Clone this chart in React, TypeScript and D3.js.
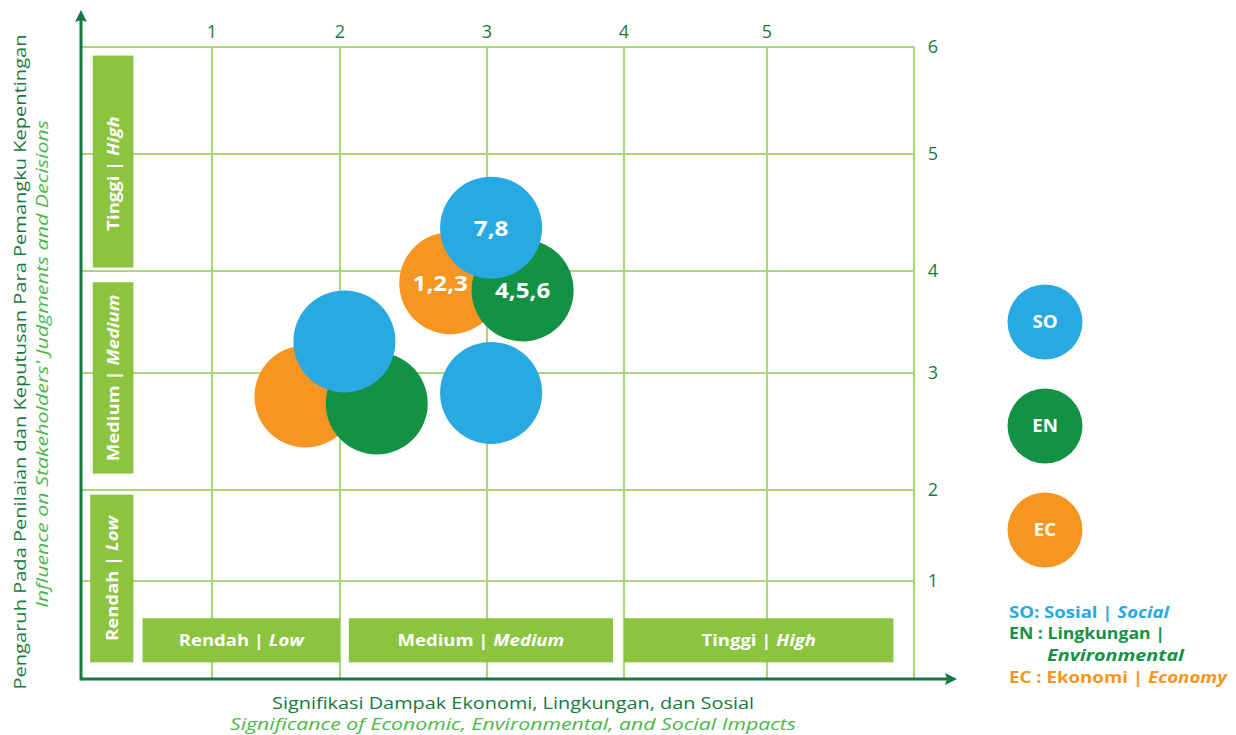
import React, { useEffect, useRef } from 'react';
import * as d3 from 'd3';

// Data
const xTicks = [1, 2, 3, 4, 5];
const yTicks = [1, 2, 3, 4, 5, 6];

const bubbleCategory = ['EC', 'EN', 'SO', 'EC', 'EN', 'SO', 'SO'];
const bubbleX = [2.75, 3.26, 3.03, 1.73, 2.25, 2.03, 3.03];
const bubbleY = [3.88, 3.81, 4.37, 2.8, 2.74, 3.31, 2.83];
const bubbleLabel = ['1,2,3', '4,5,6', '7,8', '', '', '', ''];

const legendCodes = ['SO', 'EN', 'EC'];
const legendId = ['Sosial', 'Lingkungan', 'Ekonomi'];
const legendEn = ['Social', 'Environmental', 'Economy'];

const levelId = ['Rendah', 'Medium', 'Tinggi'];
const levelEn = ['Low', 'Medium', 'High'];
const xBandFrom = [0.47, 2.06, 4.0];
const xBandTo = [2.0, 3.92, 5.86];
const yBandFrom = [0.17, 2.14, 4.03];
const yBandTo = [1.95, 3.89, 5.92];

const xTitle = 'Signifikasi Dampak Ekonomi, Lingkungan, dan Sosial';
const xTitleEn = 'Significance of Economic, Environmental, and Social Impacts';
const yTitle = 'Pengaruh Pada Penilaian dan Keputusan Para Pemangku Kepentingan';
const yTitleEn = "Influence on Stakeholders' Judgments and Decisions";

const colors: Record<string, string> = { SO: '#29a9e1', EN: '#139246', EC: '#f79522' };
const DARK = '#157a3f';
const LIGHT = '#4ab848';
const GRID = '#acd67e';
const BAND = '#8cc43f';
const FONT = "'Open Sans', sans-serif";

type TextSel = d3.Selection<SVGTextElement, any, any, any>;

// the artwork uses a wide geometric face; stretch Open Sans to the same widths
const fitWidth = (sel: TextSel, w: number) =>
  sel.attr('textLength', w).attr('lengthAdjust', 'spacingAndGlyphs');
const widen = (sel: TextSel, k: number) =>
  sel.each(function () {
    const len = (this as SVGTextElement).getComputedTextLength();
    d3.select(this).attr('textLength', len * k).attr('lengthAdjust', 'spacingAndGlyphs');
  });

const App: React.FC = () => {
  const svgRef = useRef<SVGSVGElement>(null);

  useEffect(() => {
    if (!svgRef.current) return;
    const svg = d3.select(svgRef.current);
    svg.selectAll('*').remove();

    // grid in the artwork is not evenly spaced, so piecewise scales
    const x = d3.scaleLinear().domain([0, 1, 2, 3, 4, 5, 6]).range([81, 212, 340, 487, 624, 767, 914]);
    const y = d3.scaleLinear().domain([0, 1, 2, 3, 4, 5, 6]).range([679, 581, 490, 373, 271, 154, 47]);

    const g = svg.append('g').style('font-family', FONT);

    // grid
    const grid = g.append('g').attr('stroke', GRID).attr('stroke-width', 2.2);
    [...xTicks, 6].forEach(t => {
      grid.append('line').attr('x1', x(t)).attr('x2', x(t)).attr('y1', y(6)).attr('y2', y(0));
    });
    yTicks.forEach(t => {
      grid.append('line').attr('x1', x(0)).attr('x2', x(6)).attr('y1', y(t)).attr('y2', y(t));
    });

    // bottom bands
    levelId.forEach((lv, i) => {
      const x0 = x(xBandFrom[i]), x1 = x(xBandTo[i]);
      const y0 = y(0.62), y1 = y(0.17);
      g.append('rect').attr('x', x0).attr('y', y0).attr('width', x1 - x0).attr('height', y1 - y0).attr('fill', BAND);
      const t = g.append('text').attr('x', (x0 + x1) / 2).attr('y', (y0 + y1) / 2).attr('dy', '0.36em')
        .attr('text-anchor', 'middle').attr('fill', '#fff').attr('font-size', 16.5).attr('font-weight', 700);
      t.append('tspan').text(`${lv} | `);
      t.append('tspan').attr('font-style', 'italic').text(levelEn[i]);
      widen(t, 1.12);
    });

    // left bands
    levelId.forEach((lv, i) => {
      const x0 = x(i === 0 ? 0.07 : 0.09), x1 = x(0.4);
      const y0 = y(yBandTo[i]), y1 = y(yBandFrom[i]);
      g.append('rect').attr('x', x0).attr('y', y0).attr('width', x1 - x0).attr('height', y1 - y0).attr('fill', BAND);
      const cx = (x0 + x1) / 2, cy = (y0 + y1) / 2 + (i === 2 ? 12 : 0);
      const t = g.append('text').attr('transform', `translate(${cx},${cy}) rotate(-90)`).attr('dy', '0.36em')
        .attr('text-anchor', 'middle').attr('fill', '#fff').attr('font-size', 16.5).attr('font-weight', 700);
      t.append('tspan').text(`${lv} | `);
      t.append('tspan').attr('font-style', 'italic').text(levelEn[i]);
      widen(t, 1.12);
    });

    // axes with arrows
    const ax = g.append('g');
    ax.append('line').attr('x1', x(0)).attr('x2', x(6) + 34).attr('y1', y(0)).attr('y2', y(0))
      .attr('stroke', DARK).attr('stroke-width', 3);
    ax.append('line').attr('x1', x(0)).attr('x2', x(0)).attr('y1', y(0) + 1.5).attr('y2', y(6) - 28)
      .attr('stroke', DARK).attr('stroke-width', 3);
    const tipX = x(6) + 43, tipY = y(6) - 37;
    ax.append('path').attr('d', `M${tipX},${y(0)} L${tipX - 12},${y(0) - 6} L${tipX - 10},${y(0)} L${tipX - 12},${y(0) + 6} Z`).attr('fill', DARK);
    ax.append('path').attr('d', `M${x(0)},${tipY} L${x(0) - 6},${tipY + 12} L${x(0)},${tipY + 10} L${x(0) + 6},${tipY + 12} Z`).attr('fill', DARK);

    // tick labels
    g.append('g').selectAll('text').data(xTicks).join('text')
      .attr('x', d => x(d)).attr('y', y(6) - 15).attr('dy', '0.36em').attr('text-anchor', 'middle')
      .attr('fill', DARK).attr('font-size', 18).text(d => d);
    g.append('g').selectAll('text').data(yTicks).join('text')
      .attr('x', x(6) + 19).attr('y', d => y(d)).attr('dy', '0.36em').attr('text-anchor', 'middle')
      .attr('fill', DARK).attr('font-size', 18).text(d => d);

    // bubbles
    const R = 51;
    const bubbles = bubbleX.map((bx, i) => ({ x: bx, y: bubbleY[i], cat: bubbleCategory[i], label: bubbleLabel[i] }));
    g.append('g').selectAll('circle').data(bubbles).join('circle')
      .attr('cx', d => x(d.x)).attr('cy', d => y(d.y)).attr('r', R).attr('fill', d => colors[d.cat]);
    const nudge: Record<string, number> = { '1,2,3': -10 };
    const bl = g.append('g').selectAll<SVGTextElement, typeof bubbles[0]>('text').data(bubbles.filter(d => d.label)).join('text')
      .attr('x', d => x(d.x) + (nudge[d.label] || 0)).attr('y', d => y(d.y)).attr('dy', '0.36em')
      .attr('text-anchor', 'middle').attr('fill', '#fff').attr('font-size', 22).attr('font-weight', 700)
      .text(d => d.label);
    widen(bl, 1.1);

    // legend circles
    const ly = d3.scalePoint().domain(legendCodes).range([322, 530]);
    const lg = g.append('g');
    legendCodes.forEach(c => {
      lg.append('circle').attr('cx', 1045).attr('cy', ly(c)!).attr('r', 37.5).attr('fill', colors[c]);
      const t = lg.append('text').attr('x', 1045).attr('y', ly(c)!).attr('dy', '0.36em').attr('text-anchor', 'middle')
        .attr('fill', '#fff').attr('font-size', 17).attr('font-weight', 700).text(c);
      widen(t, 1.1);
    });

    // legend text
    const lt = g.append('g').attr('font-size', 16.5).attr('font-weight', 700);
    const t0 = lt.append('text').attr('x', 1009).attr('y', 612).attr('dy', '0.36em').attr('fill', colors.SO);
    t0.append('tspan').text(`${legendCodes[0]}: ${legendId[0]} | `);
    t0.append('tspan').attr('font-style', 'italic').text(legendEn[0]);
    fitWidth(t0, 160);
    const t1 = lt.append('text').attr('x', 1009).attr('y', 633.5).attr('dy', '0.36em').attr('fill', colors.EN)
      .text(`${legendCodes[1]} : ${legendId[1]} |`);
    fitWidth(t1, 156);
    const t1b = lt.append('text').attr('x', 1047).attr('y', 655).attr('dy', '0.36em').attr('fill', colors.EN)
      .attr('font-style', 'italic').text(legendEn[1]);
    fitWidth(t1b, 137);
    const t2 = lt.append('text').attr('x', 1009).attr('y', 677).attr('dy', '0.36em').attr('fill', colors.EC);
    t2.append('tspan').text(`${legendCodes[2]} : ${legendId[2]} | `);
    t2.append('tspan').attr('font-style', 'italic').text(legendEn[2]);
    fitWidth(t2, 218);

    // axis titles
    const xt = g.append('text').attr('x', 513).attr('y', 703).attr('dy', '0.36em').attr('text-anchor', 'middle')
      .attr('fill', DARK).attr('font-size', 16).text(xTitle);
    fitWidth(xt, 482);
    const xt2 = g.append('text').attr('x', 513).attr('y', 724).attr('dy', '0.36em').attr('text-anchor', 'middle')
      .attr('fill', LIGHT).attr('font-size', 16).attr('font-style', 'italic').text(xTitleEn);
    fitWidth(xt2, 566);
    const yt = g.append('text').attr('transform', 'translate(20,362) rotate(-90)').attr('dy', '0.36em').attr('text-anchor', 'middle')
      .attr('fill', DARK).attr('font-size', 16).text(yTitle);
    fitWidth(yt, 655);
    const yt2 = g.append('text').attr('transform', 'translate(42,364) rotate(-90)').attr('dy', '0.36em').attr('text-anchor', 'middle')
      .attr('fill', LIGHT).attr('font-size', 16).attr('font-style', 'italic').text(yTitleEn);
    fitWidth(yt2, 488);
  }, []);

  return (
    <svg ref={svgRef} width={1236} height={735} style={{ position: 'absolute', left: 0, top: 0, background: '#fff' }} />
  );
};

export default App;
